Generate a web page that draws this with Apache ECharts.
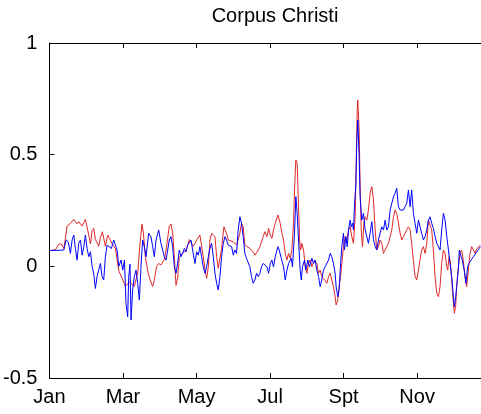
<!DOCTYPE html>
<html>
<head>
<meta charset="utf-8">
<script src="https://cdn.jsdelivr.net/npm/echarts@6/dist/echarts.min.js"></script>
<style>
html,body{margin:0;padding:0;background:#fff;}
#chart{width:481px;height:414px;}
</style>
</head>
<body>
<div id="chart"></div>
<script>
// Title and axis tick labels
const chartTitle = 'Corpus Christi';
const monthLabels = ['Jan', 'Mar', 'May', 'Jul', 'Spt', 'Nov'];
const monthStep = 61; // days between labelled ticks
const monthTicks = monthLabels.map((m, i) => i * monthStep);
const xMaxDay = 358;  // last visible day at the (cropped) right edge
const yTicks = [-0.5, 0, 0.5, 1];

// Red series (day of year, value)
const redDays = [0,5,8,10,12,14.6,17,20.2,22.9,24.3,27.1,29.8,32.6,34,35.4,36.7,38.1,40.9,42.3,43.9,46.4,48.3,49.9,52,54.7,57.5,
  60.8,63,66.3,70.4,73.2,75.1,76.8,77.9,79.6,81.5,83.4,85.6,87,88.9,90.6,92.5,95.3,97.2,99.4,100.8,102.2,103.6,105,106.3,107.7,110.5,113.3,116,117.4,
  119.3,122.1,124.8,126.2,127.6,129,130.4,131.8,133.1,134.5,137.3,138.7,140,141.4,142.8,144.7,146.9,148.3,149.7,152.5,155.2,158,159.3,160.7,162.1,163.5,166.2,169,170.4,172.3,174.6,177.3,178.7,
  180.4,181.8,183.2,184.5,185.9,187.3,189.5,191.4,192.8,194.2,195.6,197,198.4,199.7,201.1,202.5,203.3,204.4,205.5,206.6,207.5,208.3,209.4,210.8,212.2,213.6,214.9,216.3,217.7,219.9,221.8,223.2,224.6,225.9,228.2,230.1,231.5,232.9,234.2,235.6,237,237.8,239.2,240.3,
  241.4,242.5,243.9,245.3,246.7,248.1,249.5,250.8,252.2,253.6,254.4,255.3,255.8,256.9,257.7,258.6,259.7,260.8,261.9,263.3,264.6,266,267.4,268.8,270.2,271.5,272.9,274.3,275.7,277.1,278.5,279.8,281.2,282.6,284,285.4,286.7,288.1,289.5,290.9,292.3,293.7,
  295,296.4,297.8,299.2,300.5,301.9,303.3,304.7,306.1,307.4,308.8,310.2,311.6,313,314.4,315.7,317.1,318.5,319.9,321.3,322.7,324,325.4,326.8,328.2,329.6,330.4,331.5,332.6,333.7,335.1,335.9,337,337.8,339.2,340.6,341.9,343.3,344.7,346.1,347.5,348.9,350.3,351.7,353.1,354.5,355.8,357.5];
const redVals = [0.07,0.075,0.10,0.10,0.08,0.18,0.19,0.21,0.19,0.20,0.18,0.21,0.14,0.10,0.16,0.17,0.12,0.09,0.13,0.155,0.09,0.14,0.125,0.10,0.08,-0.02,
  -0.06,-0.09,-0.07,-0.09,-0.03,0.10,0.19,0.15,0.04,-0.02,-0.06,-0.09,-0.06,0.0,0.013,0.006,0.03,0.09,0.18,0.19,0.15,0.04,-0.085,-0.05,0.04,0.06,0.07,0.12,0.125,
  0.09,0.118,0.14,0.133,0.043,-0.017,-0.054,-0.002,0.118,0.148,0.133,0.043,-0.009,-0.017,0.08,0.177,0.148,0.118,0.125,0.11,0.095,0.148,0.193,0.177,0.095,0.088,0.08,0.065,0.05,0.065,0.088,0.133,0.155,
  0.133,0.17,0.14,0.125,0.163,0.193,0.23,0.193,0.148,0.118,0.058,0.028,0.058,0.036,0.073,0.193,0.342,0.476,0.461,0.267,0.118,0.073,0.103,0.073,-0.002,-0.031,0.013,0.028,-0.002,0.028,0.013,-0.031,-0.017,-0.046,-0.061,-0.076,-0.046,-0.031,-0.061,-0.091,-0.136,-0.173,-0.151,-0.091,
  -0.05,0.013,0.088,0.133,0.118,0.163,0.177,0.133,0.103,0.222,0.446,0.70,0.745,0.61,0.372,0.163,0.088,0.193,0.222,0.207,0.252,0.327,0.357,0.297,0.163,0.073,0.088,0.118,0.103,0.058,0.073,0.088,0.103,0.133,0.163,0.222,0.252,0.237,0.193,0.148,0.118,0.133,
  0.148,0.165,0.177,0.163,0.103,0.028,-0.046,-0.061,-0.017,0.028,0.073,0.088,0.058,0.103,0.207,0.207,0.163,0.073,-0.046,-0.121,-0.136,-0.091,0.013,0.073,0.058,-0.002,-0.017,0.043,0.021,-0.061,-0.166,-0.21,-0.181,-0.091,-0.002,0.058,0.073,0.028,-0.046,-0.091,-0.017,0.058,0.088,0.073,0.058,0.08,0.088,0.095];

// Blue series (day of year, value)
const blueDays = [0,11.9,13.8,15.5,17.4,18.8,20.2,21.5,22.9,24.3,25.7,27.1,28.5,29.8,31.2,32.6,34,35.4,36.7,38.1,39.5,40.9,42.3,43.6,45,46.4,47.8,49.2,51.4,53.3,54.7,56.1,57.5,
  59.4,60.8,62.2,63.5,64.9,65.7,66.8,67.7,69,70.4,71.8,73.2,74.6,75.9,77.3,78.7,80.1,82.3,84.2,85.6,87,88.4,90.6,92.5,93.9,95.3,96.7,98.1,99.4,100.8,102.2,103.6,105,106.3,107.7,109.1,110.5,111.9,113.3,114.6,116,117.4,118.8,
  120.7,122.1,123.5,124.8,126.2,127.6,129,130.4,131.8,133.1,134.5,135.9,137.3,138.7,140,141.4,142.8,144.2,145.6,146.9,148.3,149.7,151.1,152.5,153.8,155.2,156.6,158,159.3,160.7,162.1,163.5,164.9,166.2,167.6,169,170.4,171.8,173.2,174.6,175.9,177.3,178.7,
  180.4,181.8,183.2,184.5,185.9,187.3,189.5,190.6,192.3,194.2,195.6,197,198.4,200.6,201.6,203.3,204.4,205.5,206.6,208,208.9,209.9,211.6,212.7,214.4,215.7,217.7,219,220.4,221.8,223.2,224.6,225.9,227.3,228.7,230.1,231.5,232.9,234.2,235.6,237,237.8,239.2,240.3,
  241.2,242.5,243.9,244.7,245.9,247,248.1,249.5,250.3,251.4,252.2,253,254.2,255,255.8,256.9,257.7,259.1,260.5,261.9,263.3,264.6,266,267.4,268.8,
  270.2,271.5,272.9,274.3,275.7,277.1,278.5,279.8,281.2,282.6,284,285.4,286.7,288.1,289.5,290.9,292.3,293.7,295,
  296.4,297.8,299.2,300.5,301.9,303.3,304.7,306.1,307.4,308.8,310.2,311.6,313,314.4,315.7,317.1,318.5,319.9,321.3,322.7,324,325.4,326.8,328.2,329.6,331,332.3,333.7,335.1,335.9,337,337.8,339.2,340,341.5,342.5,344.1,345.5,346.9,348,349.7,351.7,353.1,354.5,355.8,357.5];
const blueVals = [0.07,0.073,0.118,0.11,0.058,0.118,0.14,0.08,0.028,0.103,0.118,0.05,0.088,0.14,0.08,0.043,0.065,0.0,-0.031,-0.099,-0.046,-0.054,0.013,-0.046,-0.061,0.043,0.095,0.103,0.08,0.118,0.095,0.073,0.0,
  0.028,-0.017,0.028,-0.166,-0.226,-0.05,0.01,-0.24,-0.106,-0.046,-0.017,-0.076,-0.151,-0.002,0.118,0.088,0.043,0.148,0.133,0.088,0.043,0.118,0.163,0.103,0.073,0.043,0.028,0.073,0.118,0.133,0.088,-0.002,-0.031,0.013,0.073,0.043,0.058,0.08,0.065,0.095,0.103,0.118,0.073,
  0.013,0.065,0.05,0.088,0.043,-0.002,-0.031,-0.002,0.043,0.08,0.103,0.043,-0.031,-0.076,-0.106,-0.046,0.043,0.103,0.133,0.118,0.095,0.103,0.088,0.05,0.073,0.058,0.163,0.222,0.193,0.133,0.058,0.036,0.043,-0.002,-0.046,-0.076,-0.061,-0.031,-0.046,-0.031,-0.002,0.013,0.02,
  -0.002,-0.031,0.013,0.028,-0.002,0.043,0.088,0.073,0.036,-0.002,-0.061,-0.017,0.013,0.036,-0.002,0.148,0.312,0.237,0.118,-0.017,-0.061,-0.002,0.028,-0.017,0.028,-0.002,0.036,0.013,0.028,-0.017,-0.046,-0.091,-0.061,-0.017,-0.002,0.006,0.028,0.058,0.043,0.013,-0.031,-0.091,-0.136,-0.106,
  -0.017,0.088,0.148,0.073,0.133,0.088,0.163,0.207,0.177,0.193,0.163,0.267,0.372,0.566,0.655,0.491,0.312,0.207,0.237,0.163,0.133,0.103,0.148,0.2,0.12,
  0.088,0.073,0.118,0.148,0.177,0.163,0.207,0.163,0.177,0.252,0.282,0.312,0.327,0.349,0.267,0.252,0.26,0.252,0.267,
  0.282,0.342,0.267,0.342,0.237,0.193,0.148,0.207,0.177,0.148,0.118,0.133,0.163,0.207,0.222,0.193,0.17,0.133,0.103,0.088,0.073,0.163,0.237,0.207,0.133,0.073,0.013,-0.046,-0.136,-0.181,-0.136,-0.091,-0.017,0.073,0.043,0.028,-0.017,-0.076,-0.002,0.013,0.028,0.043,0.05,0.065,0.073,0.088];

const FONT = '"Liberation Sans", Arial, Helvetica, sans-serif';
const zip = (xs, ys) => xs.map((x, i) => [x, ys[i]]);

const chart = echarts.init(document.getElementById('chart'), null, {renderer: 'canvas'});

const axisCommon = {
  type: 'value',
  min: 0,
  max: xMaxDay,
  interval: monthStep,
  axisLine: {show: true, onZero: false, lineStyle: {color: '#000', width: 1}},
  axisTick: {show: true, inside: true, length: 5, customValues: monthTicks, lineStyle: {color: '#000', width: 1}},
  splitLine: {show: false}
};

chart.setOption({
  animation: false,
  backgroundColor: '#fff',
  title: {
    text: chartTitle,
    left: 270,
    top: 1,
    textAlign: 'center',
    textStyle: {fontFamily: FONT, fontSize: 20, fontWeight: 'normal', color: '#000'}
  },
  grid: {
    left: 49, right: 0, top: 43, bottom: 36, containLabel: false,
    show: true, borderWidth: 1, borderColor: '#ffffff', backgroundColor: '#ffffff'
  },
  xAxis: [
    Object.assign({}, axisCommon, {
      position: 'bottom',
      axisLabel: {
        show: true,
        margin: 9,
        fontFamily: FONT,
        fontSize: 20,
        color: '#000',
        customValues: monthTicks,
        formatter: v => monthLabels[Math.round(v / monthStep)] || ''
      }
    }),
    Object.assign({}, axisCommon, {
      position: 'top',
      axisLabel: {show: false}
    })
  ],
  yAxis: {
    type: 'value',
    min: yTicks[0],
    max: yTicks[yTicks.length - 1],
    interval: 0.5,
    axisLine: {show: true, onZero: false, lineStyle: {color: '#000', width: 1}},
    axisTick: {show: true, inside: true, length: 5, lineStyle: {color: '#000', width: 1}},
    splitLine: {show: false},
    axisLabel: {
      margin: 12,
      fontFamily: FONT,
      fontSize: 20,
      color: '#000',
      formatter: v => String(v)
    }
  },
  series: [
    {
      name: 'red',
      type: 'line',
      xAxisIndex: 0,
      data: zip(redDays, redVals),
      showSymbol: false,
      symbol: 'none',
      lineStyle: {color: '#e02828', width: 1},
      itemStyle: {color: '#e02828'}
    },
    {
      name: 'blue',
      type: 'line',
      xAxisIndex: 0,
      data: zip(blueDays, blueVals),
      showSymbol: false,
      symbol: 'none',
      lineStyle: {color: '#0000ff', width: 1},
      itemStyle: {color: '#0000ff'}
    }
  ]
});
</script>
</body>
</html>
